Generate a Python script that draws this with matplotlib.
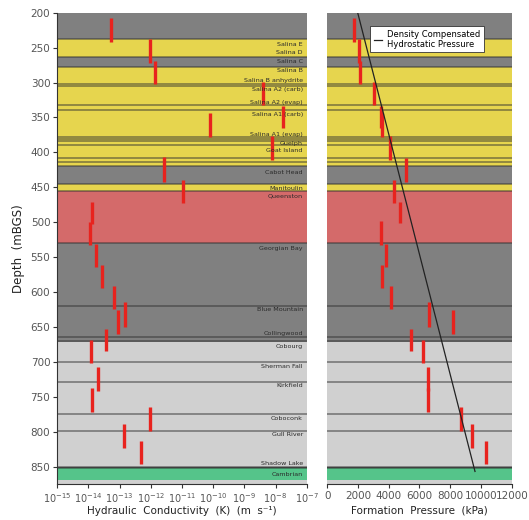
import matplotlib
matplotlib.use("Agg")
import matplotlib.pyplot as plt
import numpy as np

# ---- data ----
layer_top = [200, 238, 264, 277, 419, 445.7, 456, 530, 671, 850, 852, 869]
layer_bot = [238, 264, 277, 419, 445.7, 456, 530, 671, 850, 852, 869, 875]
layer_kind = ["gray", "yellow", "gray", "yellow", "gray", "yellow", "red",
              "gray", "light", "dark", "green", "light"]

boundaries = [238, 264, 277, 302.5, 304.5, 332.6, 340, 377.5, 380.5, 383.5, 389,
              408, 414, 419, 445.7, 456, 530, 619.5, 664, 670, 700, 729,
              774.5, 798.4, 850, 852]

unit_names = ["Salina E", "Salina D", "Salina C", "Salina B", "Salina B anhydrite",
              "Salina A2 (carb)", "Salina A2 (evap)", "Salina A1 (carb)",
              "Salina A1 (evap)", "Guelph", "Goat Island", "Cabot Head",
              "Manitoulin", "Queenston", "Georgian Bay", "Blue Mountain",
              "Collingwood", "Cobourg", "Sherman Fall", "Kirkfield", "Coboconk",
              "Gull River", "Shadow Lake", "Cambrian"]
unit_label_depth = [245, 257, 270, 283, 297, 310, 329, 346, 375, 387, 398, 428.5,
                    452, 462, 537, 625.6, 659, 678, 706, 734, 781.7, 804.6, 846, 861]

# hydraulic conductivity intervals (log10 K, top depth, bottom depth)
k_log = [-13.29, -12.03, -11.87, -8.40, -7.76, -10.11, -8.10, -11.57, -10.96,
         -13.90, -13.95, -13.76, -13.56, -13.17, -13.04, -12.83, -13.44, -13.93,
         -13.69, -13.88, -12.03, -12.85, -12.32]
k_top = [208, 238, 269, 299, 333.6, 344, 376.5, 407, 439.5, 470.6, 500, 531, 561,
         592, 625.6, 615, 653, 668.6, 708, 738, 764, 789, 813]
k_bot = [241.5, 271.6, 302.5, 332, 365.5, 377.5, 411, 442, 472, 502, 532.6, 563.6,
         594.6, 624.6, 660, 649.5, 685, 702, 741.6, 772, 798.4, 823, 846]

# formation pressure intervals (kPa, top depth, bottom depth)
p_val = [1718, 2080, 2100, 3039, 3475, 3560, 4080, 5141, 4321, 4712, 3475, 3840,
         3580, 4145, 6638, 8200, 5466, 6247, 6573, 6573, 8700, 9417, 10328]
p_top = [208, 238, 269, 299, 333.6, 344, 377, 408.5, 439.5, 470.6, 499, 531, 561,
         592, 615, 625.6, 653, 668.6, 708, 738, 764, 789, 813]
p_bot = [241.5, 271.6, 302.5, 332, 365.5, 377.5, 411, 442, 472, 501.5, 532.6, 563.6,
         594.6, 624.6, 649.5, 660, 685, 702, 741.6, 772, 798.4, 823, 846]

hydro_depth = [200, 857]
hydro_p = [1978, 9612]

k_ticks = list(range(-15, -6))
depth_ticks = list(range(200, 851, 50))
p_ticks = list(range(0, 12001, 2000))

# ---- styles ----
colors = {"gray": "#808080", "yellow": "#e6d54e", "red": "#d46a6a",
          "light": "#d0d0d0", "dark": "#6a6a6a", "green": "#55c48a"}
tick_col = "#555555"

fig = plt.figure(figsize=(5.29, 5.20), dpi=100)
axL = fig.add_axes([0.1083, 0.0692, 0.4715, 0.9063])
axR = fig.add_axes([0.6187, 0.0692, 0.3486, 0.9063], sharey=axL)

for ax in (axL, axR):
    for t, b, k in zip(layer_top, layer_bot, layer_kind):
        ax.axhspan(t, b, color=colors[k], lw=0, zorder=0)
    for d in boundaries:
        ax.axhline(d, color="#303030", alpha=0.55, lw=1.2, zorder=1)
    for s in ("top", "right"):
        ax.spines[s].set_visible(False)
    ax.spines["bottom"].set_color("#333333")
    ax.spines["left"].set_color("#333333")
    ax.tick_params(colors="#333333", labelcolor=tick_col, labelsize=7.5,
                   direction="out", length=3, width=0.8, pad=2)

# left panel
axL.set_xscale("log")
axL.set_xlim(1e-15, 1e-7)
axL.set_ylim(875, 200)
axL.set_yticks(depth_ticks)
axL.set_xticks([10.0 ** e for e in k_ticks])
axL.set_xticklabels([r"$10^{%d}$" % e for e in k_ticks])
axL.xaxis.set_minor_locator(matplotlib.ticker.NullLocator())
axL.tick_params(axis="x", labelsize=7)
axL.vlines([10.0 ** v for v in k_log], k_top, k_bot, color="#e8231e", lw=2.4, zorder=3)
for name, d in zip(unit_names, unit_label_depth):
    axL.text(0.985, d, name, transform=axL.get_yaxis_transform(), ha="right",
             va="center", fontsize=4.6, color="#2a2a2a", zorder=4)
axL.set_ylabel("Depth  (mBGS)", fontsize=8.5, color="#222222", labelpad=4)
axL.set_xlabel("Hydraulic  Conductivity  (K)  (m  s\u207b\u00b9)", fontsize=7.5,
               color="#222222")
axL.xaxis.set_label_coords(0.5, -0.046)

# right panel
axR.set_xlim(0, 12000)
axR.set_xticks(p_ticks)
axR.spines["left"].set_visible(False)
axR.tick_params(axis="y", left=False, labelleft=False)
axR.vlines(p_val, p_top, p_bot, color="#e8231e", lw=2.4, zorder=3)
axR.plot(hydro_p, hydro_depth, color="#222222", lw=0.9, zorder=4,
         label="Density Compensated\nHydrostatic Pressure")
leg = axR.legend(loc="upper right", bbox_to_anchor=(0.87, 0.98), fontsize=6,
                 handlelength=1.0, fancybox=False, framealpha=1,
                 edgecolor="#333333", borderpad=0.4, handletextpad=0.6)
leg.get_frame().set_linewidth(0.6)
axR.set_xlabel("Formation  Pressure  (kPa)", fontsize=7.5, color="#222222")
axR.xaxis.set_label_coords(0.5, -0.046)

fig.savefig("out.png", dpi=100)
